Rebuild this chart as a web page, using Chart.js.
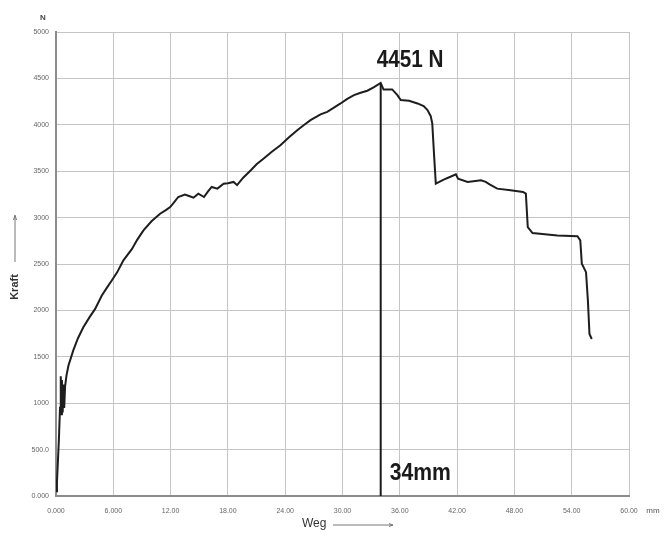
<!DOCTYPE html>
<html>
<head>
<meta charset="utf-8">
<script src="https://cdn.jsdelivr.net/npm/chart.js@4.4.1/dist/chart.umd.min.js"></script>
<style>
  html, body { margin: 0; padding: 0; background: #ffffff; }
  #wrap { width: 664px; height: 536px; position: relative; }
</style>
</head>
<body>
<div id="wrap"><canvas id="c" width="664" height="536"></canvas></div>
<script>
// Displacement (Weg, mm)
const wegMm = [
  0.0, 0.1, 0.3, 0.42, 0.5, 0.55, 0.62, 0.7, 0.78, 0.86, 0.95, 1.1, 1.3, 1.8, 2.3, 2.86, 3.5, 4.1, 4.8, 5.3,
  5.84, 6.4, 7.06, 7.94, 8.5, 9.16, 10.0, 10.9, 11.5, 11.96, 12.4, 12.8, 13.5, 14.0, 14.4, 14.9, 15.5, 15.9, 16.3, 16.9,
  17.55, 18.0, 18.6, 18.96, 19.6, 20.4, 21.0, 21.75, 22.6, 23.5, 24.4, 25.26, 26.0, 26.65, 27.7, 28.4, 29.1, 29.8, 30.5, 31.2,
  31.9, 32.6, 33.3, 34.0, 34.3, 35.2, 35.75, 36.1, 36.97, 37.85, 38.5, 38.9, 39.24, 39.4, 39.6, 39.77, 40.6, 41.3, 41.87, 42.1,
  43.1, 44.5, 45.0, 45.4, 46.2, 47.6, 48.9, 49.2, 49.4, 49.9, 52.5, 54.6, 54.9, 55.06, 55.5, 55.7, 55.86, 56.1
];
// Force (Kraft, N)
const kraftN = [
  50, 150, 600, 950, 1290, 880, 1250, 900, 1200, 950, 1180, 1300, 1404, 1566, 1700, 1818, 1925, 2016, 2160, 2240,
  2322, 2410, 2540, 2660, 2760, 2862, 2960, 3042, 3080, 3114, 3170, 3222, 3248, 3230, 3215, 3258, 3222, 3280, 3330, 3312,
  3366, 3370, 3384, 3350, 3430, 3510, 3575, 3636, 3710, 3780, 3865, 3942, 4000, 4050, 4112, 4140, 4185, 4230, 4280, 4320,
  4345, 4367, 4405, 4451, 4380, 4381, 4320, 4266, 4258, 4230, 4201, 4158, 4093, 4014, 3654, 3366, 3410, 3440, 3467, 3420,
  3384, 3402, 3385, 3359, 3312, 3294, 3276, 3258, 2898, 2833, 2808, 2800, 2754, 2502, 2412, 2100, 1746, 1692
];
// Tick labels
const xTickLabels = ["0.000", "6.000", "12.00", "18.00", "24.00", "30.00", "36.00", "42.00", "48.00", "54.00", "60.00"];
const yTickLabels = ["0.000", "500.0", "1000", "1500", "2000", "2500", "3000", "3500", "4000", "4500", "5000"];
// Annotated peak
const peakWeg = [34];
const peakKraft = [4451];
const peakLabel = "4451 N";
const wegLabel = "34mm";

const points = wegMm.map((x, i) => ({ x: x, y: kraftN[i] }));

function condensedText(ctx, text, x, y, sx) {
  ctx.save();
  ctx.translate(x, y);
  ctx.scale(sx, 1);
  ctx.fillText(text, 0, 0);
  ctx.restore();
}

const extras = {
  id: 'extras',
  beforeDraw(chart) {
    const ctx = chart.ctx;
    ctx.save();
    ctx.fillStyle = '#ffffff';
    ctx.fillRect(0, 0, chart.width, chart.height);
    ctx.restore();
  },
  afterDatasetsDraw(chart) {
    const ctx = chart.ctx;
    const xs = chart.scales.x, ys = chart.scales.y;
    const px = xs.getPixelForValue(peakWeg[0]);
    const pyTop = ys.getPixelForValue(peakKraft[0]);
    const pyBot = ys.getPixelForValue(0);
    ctx.save();
    // peak marker line
    ctx.strokeStyle = '#1a1a1a';
    ctx.lineWidth = 2;
    ctx.beginPath();
    ctx.moveTo(px, pyTop);
    ctx.lineTo(px, pyBot);
    ctx.stroke();
    // annotation texts
    ctx.fillStyle = '#1a1a1a';
    ctx.font = 'bold 23px "Liberation Sans Narrow", "Arial Narrow", "Liberation Sans", sans-serif';
    ctx.textAlign = 'left';
    ctx.textBaseline = 'alphabetic';
    condensedText(ctx, peakLabel, px - 4, pyTop - 16, 0.9);
    condensedText(ctx, wegLabel, px + 9, pyBot - 16, 0.92);
    // axis unit labels
    const ca = chart.chartArea;
    ctx.fillStyle = '#444';
    ctx.font = 'bold 8px "Liberation Sans", sans-serif';
    ctx.textAlign = 'center';
    ctx.textBaseline = 'middle';
    ctx.fillText('N', ca.left - 13, ca.top - 14);
    ctx.font = '8px "Liberation Sans", sans-serif';
    ctx.fillStyle = '#555';
    ctx.fillText('mm', ca.right + 24, ca.bottom + 15);
    // Kraft (rotated)
    ctx.save();
    ctx.translate(15, 287);
    ctx.rotate(-Math.PI / 2);
    ctx.font = 'bold 11px "Liberation Sans", sans-serif';
    ctx.fillStyle = '#333';
    ctx.fillText('Kraft', 0, 0);
    ctx.restore();
    // Kraft arrow
    ctx.strokeStyle = '#777';
    ctx.lineWidth = 1;
    ctx.beginPath();
    ctx.moveTo(15, 262); ctx.lineTo(15, 216);
    ctx.moveTo(13.5, 220); ctx.lineTo(15, 215); ctx.lineTo(16.5, 220);
    ctx.stroke();
    // Weg
    ctx.font = '12px "Liberation Sans", sans-serif';
    ctx.fillStyle = '#333';
    ctx.textAlign = 'left';
    ctx.fillText('Weg', 302, 524);
    ctx.beginPath();
    ctx.moveTo(333, 525); ctx.lineTo(393, 525);
    ctx.moveTo(389, 523.5); ctx.lineTo(393, 525); ctx.lineTo(389, 526.5);
    ctx.stroke();
    ctx.restore();
  }
};

new Chart(document.getElementById('c'), {
  type: 'line',
  data: {
    datasets: [{
      data: points,
      borderColor: '#1e1e1e',
      borderWidth: 2,
      pointRadius: 0,
      tension: 0,
      fill: false
    }]
  },
  options: {
    responsive: false,
    animation: false,
    events: [],
    layout: { padding: { left: 0, top: 32, right: 35, bottom: 0 } },
    plugins: { legend: { display: false }, tooltip: { enabled: false } },
    scales: {
      x: {
        type: 'linear',
        min: 0, max: 60,
        afterFit(s) { s.height = 40; },
        afterBuildTicks(s) { s.ticks = xTickLabels.map((_, i) => ({ value: i * 6 })); },
        ticks: {
          padding: 11,
          color: '#666',
          font: { size: 7, family: '"Liberation Sans", sans-serif' },
          maxRotation: 0,
          autoSkip: false,
          callback: (v, i) => xTickLabels[i]
        },
        grid: {
          drawTicks: false,
          color: '#c4c4c4',
          lineWidth: 1
        },
        border: { color: '#8c8c8c', width: 2 }
      },
      y: {
        type: 'linear',
        min: 0, max: 5000,
        afterFit(s) { s.width = 56; },
        afterBuildTicks(s) { s.ticks = yTickLabels.map((_, i) => ({ value: i * 500 })); },
        ticks: {
          padding: 7,
          color: '#666',
          font: { size: 7, family: '"Liberation Sans", sans-serif' },
          autoSkip: false,
          callback: (v, i) => yTickLabels[i]
        },
        grid: {
          drawTicks: false,
          color: '#c4c4c4',
          lineWidth: 1
        },
        border: { color: '#8c8c8c', width: 2 }
      }
    }
  },
  plugins: [extras]
});
</script>
</body>
</html>
